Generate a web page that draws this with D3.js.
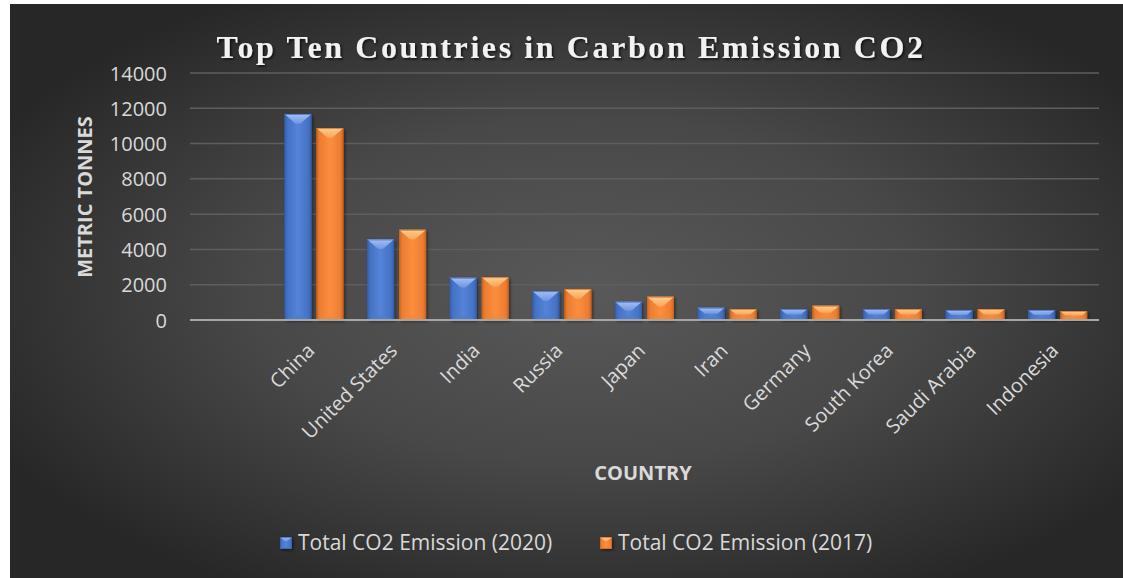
<!DOCTYPE html>
<html><head><meta charset="utf-8">
<script src="https://cdn.jsdelivr.net/npm/d3@7"></script>
<style>
html,body{margin:0;padding:0;background:#fff;}
svg{display:block;}
</style></head>
<body>
<svg id="chart" width="1123" height="578"></svg>
<script>
const countries = ["China","United States","India","Russia","Japan","Iran","Germany","South Korea","Saudi Arabia","Indonesia"];
const emission2020 = [11680,4570,2400,1640,1040,700,620,620,570,570];
const emission2017 = [10880,5110,2430,1760,1320,620,810,620,620,510];
const seriesNames = ["Total CO2 Emission (2020)","Total CO2 Emission (2017)"];
const yTicks = [0,2000,4000,6000,8000,10000,12000,14000];

(function(){
const svg = d3.select("#chart");
const W = 1123, H = 578;
const defs = svg.append("defs");

// background
const rg = defs.append("radialGradient").attr("id","bg").attr("cx","52%").attr("cy","50%").attr("r","60%");
rg.append("stop").attr("offset","0%").attr("stop-color","#595959");
rg.append("stop").attr("offset","50%").attr("stop-color","#484848");
rg.append("stop").attr("offset","100%").attr("stop-color","#272727");
svg.append("rect").attr("x",10).attr("y",4).attr("width",W-10).attr("height",H-4).attr("fill","url(#bg)");

const shadow = defs.append("filter").attr("id","sh").attr("x","-30%").attr("y","-10%").attr("width","170%").attr("height","130%");
shadow.append("feDropShadow").attr("dx",1.5).attr("dy",1.5).attr("stdDeviation",1.8).attr("flood-color","#000").attr("flood-opacity",0.45);
const tsh = defs.append("filter").attr("id","tsh");
tsh.append("feDropShadow").attr("dx",1.5).attr("dy",1.5).attr("stdDeviation",1.2).attr("flood-color","#000").attr("flood-opacity",0.7);

const colors = [
  {base:"#4472c4", light:"#5484d8", dark:"#3660ad", top1:"#a4c0f6", top2:"#6f96e0", bot:"#4f7dcf"},
  {base:"#ed7d31", light:"#fb8e3e", dark:"#cc6520", top1:"#ffd08e", top2:"#f9a45a", bot:"#f08838"}
];
colors.forEach((c,i)=>{
  const lg = defs.append("linearGradient").attr("id","body"+i).attr("x1","0").attr("x2","1").attr("y1","0").attr("y2","0");
  lg.append("stop").attr("offset","0%").attr("stop-color",c.dark);
  lg.append("stop").attr("offset","12%").attr("stop-color",c.base);
  lg.append("stop").attr("offset","50%").attr("stop-color",c.light);
  lg.append("stop").attr("offset","88%").attr("stop-color",c.base);
  lg.append("stop").attr("offset","100%").attr("stop-color",c.dark);
  const tg = defs.append("linearGradient").attr("id","top"+i).attr("x1","0").attr("x2","0").attr("y1","0").attr("y2","1");
  tg.append("stop").attr("offset","0%").attr("stop-color",c.top1);
  tg.append("stop").attr("offset","100%").attr("stop-color",c.top2);
});

const pL = 190, pR = 1099, pT = 73, pB = 320;
const domain = [""].concat(countries);
const x = d3.scaleBand().domain(domain).range([pL,pR]).paddingInner(0).paddingOuter(0);
const y = d3.scaleLinear().domain([0,14000]).range([pB,pT]);

// grid
const grid = svg.append("g");
grid.selectAll("line").data(yTicks.filter(d=>d>0)).join("line")
  .attr("x1",pL).attr("x2",pR).attr("y1",d=>y(d)).attr("y2",d=>y(d))
  .attr("stroke","#5e5e5e").attr("stroke-width",1.5);

// y axis labels
const yAxis = d3.axisLeft(y).tickValues(yTicks).tickSize(0).tickPadding(0).tickFormat(d3.format("d"));
const ya = svg.append("g").attr("transform",`translate(167,0)`).call(yAxis);
ya.select(".domain").remove();
ya.selectAll("text").attr("font-family","Open Sans").attr("font-size",20).attr("fill","#d9d9d9").attr("dy","0.35em");

// bars
const seriesData = [emission2020, emission2017];
const bw = 27, gap = 5;
function bevelBar(g, bx, by, w, h, s){
  const c = colors[s];
  const d = Math.min(w*0.36, h/2);
  const gg = g.append("g").attr("filter","url(#sh)");
  const P = (pts)=>pts.map(p=>p.join(",")).join(" ");
  gg.append("rect").attr("x",bx).attr("y",by).attr("width",w).attr("height",h).attr("fill",`url(#body${s})`);
  const db = Math.min(w*0.3, h/2);
  gg.append("polygon").attr("points",P([[bx+1,by+h],[bx+db,by+h-db*0.6],[bx+w-db,by+h-db*0.6],[bx+w-1,by+h]])).attr("fill",c.bot).attr("opacity",0.6);
  gg.append("polygon").attr("points",P([[bx,by],[bx+w,by],[bx+w-d*1.15,by+d],[bx+d*1.15,by+d]])).attr("fill",`url(#top${s})`);
  gg.append("rect").attr("x",bx+0.5).attr("y",by+0.5).attr("width",w-1).attr("height",h-1).attr("fill","none").attr("stroke",c.dark).attr("stroke-width",1).attr("opacity",0.7);
}
const barsG = svg.append("g");
countries.forEach((cn,i)=>{
  const cx = x(cn) + x.bandwidth()/2;
  seriesData.forEach((vals,s)=>{
    const bx = s===0 ? cx - gap/2 - bw : cx + gap/2;
    const by = y(vals[i]);
    bevelBar(barsG, bx, by, bw, pB-by, s);
  });
});

// zero axis line
svg.append("line").attr("x1",pL).attr("x2",pR).attr("y1",pB).attr("y2",pB)
  .attr("stroke","#a6a6a6").attr("stroke-width",2);

// x labels
const xl = svg.append("g");
xl.selectAll("text").data(countries).join("text")
  .attr("transform",d=>`translate(${x(d)+x.bandwidth()/2+2},${pB+32}) rotate(-45)`)
  .attr("text-anchor","end").attr("font-family","Open Sans").attr("font-size",20).attr("fill","#d9d9d9")
  .text(d=>d);

// axis titles
svg.append("text").attr("x",643).attr("y",480).attr("text-anchor","middle")
  .attr("font-family","Open Sans").attr("font-weight","bold").attr("font-size",20).attr("fill","#d9d9d9").text("COUNTRY");
svg.append("text").attr("transform","translate(92,197) rotate(-90)").attr("text-anchor","middle")
  .attr("font-family","Open Sans").attr("font-weight","bold").attr("font-size",20).attr("fill","#d9d9d9").text("METRIC TONNES");

// title
svg.append("text").attr("x",571).attr("y",58).attr("text-anchor","middle")
  .attr("font-family","Liberation Serif").attr("font-weight","bold").attr("font-size",32)
  .attr("letter-spacing","2.6px").attr("fill","#f2f2f2").attr("filter","url(#tsh)")
  .text("Top Ten Countries in Carbon Emission CO2");

// legend
const leg = svg.append("g");
const legX = [280, 600];
seriesNames.forEach((nm,s)=>{
  bevelBar(leg, legX[s], 537, 12, 12, s);
  leg.append("text").attr("x",legX[s]+18).attr("y",550)
    .attr("font-family","Open Sans").attr("font-size",21).attr("fill","#d9d9d9").text(nm);
});
})();
</script>
</body></html>
